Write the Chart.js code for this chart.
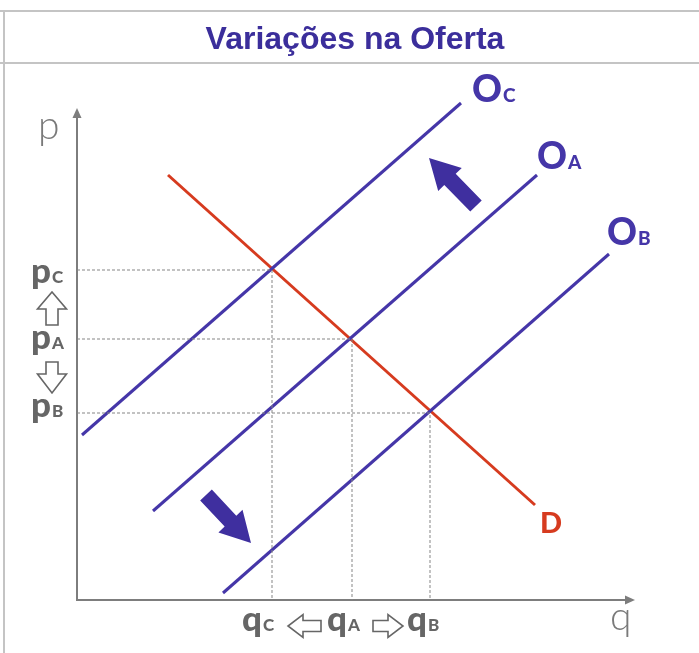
<!DOCTYPE html>
<html><head><meta charset="utf-8">
<script src="https://cdn.jsdelivr.net/npm/chart.js@4/dist/chart.umd.min.js"></script>
<style>html,body{margin:0;padding:0;background:#fff;overflow:hidden}canvas{display:block}</style>
</head><body>
<canvas id="c" width="699" height="653"></canvas>
<script>
// ---- data (quantity q, price p in chart units) ----
const supplyC_q = [0.5, 38.4];
const supplyC_p = [16.5, 49.7];
const supplyA_q = [7.6, 46.0];
const supplyA_p = [8.9, 42.5];
const supplyB_q = [14.6, 53.2];
const supplyB_p = [0.7, 34.6];
const demand_q = [9.1, 45.8];
const demand_p = [42.5, 9.5];
const eqQ = [19.5, 27.5, 35.3];   // qC, qA, qB
const eqP = [33.0, 26.1, 18.7];   // pC, pA, pB
const eqSub = ['C', 'A', 'B'];
const curveLabels = [['O', 'C'], ['O', 'A'], ['O', 'B'], ['D', '']];
const titleText = 'Variações na Oferta';
const axisNames = ['p', 'q'];
const axisEnd = { q: 55.8, p: 49.2 };

const pts = (qs, ps) => qs.map((q, i) => ({ x: q, y: ps[i] }));
const BLUE = '#4536a8', RED = '#d63b1f', GRAY = '#666666';

const guideSets = eqQ.map((q, i) => ({
  data: [{ x: 0, y: eqP[i] }, { x: q, y: eqP[i] }, { x: q, y: 0 }],
  borderColor: '#858585', borderWidth: 1, borderDash: [3, 2],
  pointRadius: 0, showLine: true, fill: false
}));
const curveSets = [
  { data: pts(supplyC_q, supplyC_p), borderColor: BLUE },
  { data: pts(supplyA_q, supplyA_p), borderColor: BLUE },
  { data: pts(supplyB_q, supplyB_p), borderColor: BLUE },
  { data: pts(demand_q, demand_p), borderColor: RED }
].map(d => Object.assign(d, { borderWidth: 3, pointRadius: 0, showLine: true, fill: false, clip: false }));

function arrowPath(ctx, tx, ty, px, py, shaftW, headW, headLen) {
  const dx = px - tx, dy = py - ty, L = Math.hypot(dx, dy);
  const ux = dx / L, uy = dy / L, nx = -uy, ny = ux;
  const bx = px - ux * headLen, by = py - uy * headLen;
  ctx.beginPath();
  ctx.moveTo(tx + nx * shaftW / 2, ty + ny * shaftW / 2);
  ctx.lineTo(bx + nx * shaftW / 2, by + ny * shaftW / 2);
  ctx.lineTo(bx + nx * headW / 2, by + ny * headW / 2);
  ctx.lineTo(px, py);
  ctx.lineTo(bx - nx * headW / 2, by - ny * headW / 2);
  ctx.lineTo(bx - nx * shaftW / 2, by - ny * shaftW / 2);
  ctx.lineTo(tx - nx * shaftW / 2, ty - ny * shaftW / 2);
  ctx.closePath();
}
function filledArrow(ctx, tx, ty, px, py, shaftW, headW, headLen, color) {
  arrowPath(ctx, tx, ty, px, py, shaftW, headW, headLen);
  ctx.fillStyle = color; ctx.fill();
}
function hollowArrow(ctx, tx, ty, px, py, shaftW, headW, headLen) {
  arrowPath(ctx, tx, ty, px, py, shaftW, headW, headLen);
  ctx.fillStyle = '#fff'; ctx.fill();
  ctx.lineWidth = 1.6; ctx.strokeStyle = GRAY; ctx.lineJoin = 'miter'; ctx.stroke();
}
function subText(ctx, main, sub, x, y, mainFont, subFont, color) {
  ctx.fillStyle = color; ctx.textAlign = 'left'; ctx.textBaseline = 'alphabetic';
  ctx.font = mainFont; ctx.fillText(main, x, y);
  const w = ctx.measureText(main).width;
  if (sub) { ctx.font = subFont; ctx.fillText(sub, x + w + 1, y); }
}

const deco = {
  id: 'deco',
  beforeDatasetsDraw(chart) {
    const ctx = chart.ctx, xs = chart.scales.x, ys = chart.scales.y;
    ctx.save();
    // table borders
    ctx.strokeStyle = '#c4c4c4'; ctx.lineWidth = 2;
    ctx.beginPath();
    ctx.moveTo(0, 11); ctx.lineTo(699, 11);
    ctx.moveTo(0, 63); ctx.lineTo(699, 63);
    ctx.moveTo(4, 11); ctx.lineTo(4, 653);
    ctx.stroke();
    // title
    ctx.fillStyle = '#3b2e9b'; ctx.font = 'bold 32px "Liberation Sans", Arial, sans-serif';
    ctx.textAlign = 'center'; ctx.textBaseline = 'alphabetic';
    ctx.fillText(titleText, 355, 49);
    // axes
    const x0 = xs.getPixelForValue(0), y0 = ys.getPixelForValue(0);
    const yTop = ys.getPixelForValue(axisEnd.p), xEnd = xs.getPixelForValue(axisEnd.q);
    ctx.strokeStyle = '#7d7d7d'; ctx.fillStyle = '#7d7d7d'; ctx.lineWidth = 2;
    ctx.beginPath();
    ctx.moveTo(x0, y0 + 1); ctx.lineTo(x0, yTop + 8);
    ctx.moveTo(x0 - 1, y0); ctx.lineTo(xEnd - 8, y0);
    ctx.stroke();
    ctx.beginPath();
    ctx.moveTo(x0, yTop); ctx.lineTo(x0 - 4.5, yTop + 10); ctx.lineTo(x0 + 4.5, yTop + 10); ctx.closePath(); ctx.fill();
    ctx.beginPath();
    ctx.moveTo(xEnd, y0); ctx.lineTo(xEnd - 10, y0 - 4.5); ctx.lineTo(xEnd - 10, y0 + 4.5); ctx.closePath(); ctx.fill();
    ctx.restore();
  },
  afterDatasetsDraw(chart) {
    const ctx = chart.ctx, xs = chart.scales.x, ys = chart.scales.y;
    ctx.save();
    const X = v => xs.getPixelForValue(v), Y = v => ys.getPixelForValue(v);
    const x0 = X(0), y0 = Y(0);
    // axis names (thin)
    ctx.fillStyle = '#7a7a7a'; ctx.font = '300 39px Lato, "Open Sans", sans-serif';
    ctx.textAlign = 'left'; ctx.textBaseline = 'alphabetic';
    ctx.fillText(axisNames[0], x0 - 39, Y(axisEnd.p) + 31);
    ctx.fillText(axisNames[1], X(axisEnd.q) - 25, y0 + 30);
    // curve labels
    const curveEnds = [[supplyC_q[1], supplyC_p[1]], [supplyA_q[1], supplyA_p[1]], [supplyB_q[1], supplyB_p[1]], [demand_q[1], demand_p[1]]];
    const offs = [[11, -1], [0, -6], [-2, -9], [5, 28]];
    curveLabels.forEach((lab, i) => {
      const px = X(curveEnds[i][0]) + offs[i][0], py = Y(curveEnds[i][1]) + offs[i][1];
      const color = i === 3 ? RED : BLUE;
      const mf = i === 3 ? '900 29px Lato, sans-serif' : '900 37px Lato, sans-serif';
      subText(ctx, lab[0], lab[1], px, py, mf, '900 19px Lato, sans-serif', color);
    });
    // price labels
    const pOff = [13, 10, 4];
    eqP.forEach((p, i) => {
      subText(ctx, 'p', eqSub[i], 31, Y(p) + pOff[i], '900 35px Lato, sans-serif', '900 17px Lato, sans-serif', GRAY);
    });
    // quantity labels
    const qOff = [-30, -25, -23];
    eqQ.forEach((q, i) => {
      subText(ctx, 'q', eqSub[i], X(q) + qOff[i], y0 + 31, '900 35px Lato, sans-serif', '900 17px Lato, sans-serif', GRAY);
    });
    // hollow arrows
    hollowArrow(ctx, 52, Y(eqP[1]) - 14, 52, Y(eqP[0]) + 22, 12, 29, 17);
    hollowArrow(ctx, 52, Y(eqP[1]) + 23, 52, Y(eqP[2]) - 20, 12, 29, 19);
    hollowArrow(ctx, X(eqQ[1]) - 31, y0 + 26, X(eqQ[0]) + 16, y0 + 26, 11, 23, 15);
    hollowArrow(ctx, X(eqQ[1]) + 21, y0 + 26, X(eqQ[2]) - 27, y0 + 26, 11, 23, 15);
    // shift arrows (filled)
    filledArrow(ctx, X(39.9), Y(39.4), X(35.2), Y(44.2), 16, 33, 30, '#3f2f9f');
    filledArrow(ctx, X(12.9), Y(10.5), X(17.4), Y(5.7), 16, 33, 30, '#3f2f9f');
    ctx.restore();
  }
};

new Chart(document.getElementById('c'), {
  type: 'scatter',
  data: { datasets: guideSets.concat(curveSets) },
  options: {
    responsive: false, animation: false, events: [],
    layout: { padding: { left: 77, right: 22, top: 100, bottom: 53 } },
    scales: {
      x: { type: 'linear', min: 0, max: 60, display: false },
      y: { type: 'linear', min: 0, max: 50, display: false }
    },
    elements: { line: { tension: 0, borderCapStyle: 'butt' } },
    plugins: { legend: { display: false }, tooltip: { enabled: false }, title: { display: false } }
  },
  plugins: [deco]
});
</script>
</body></html>
